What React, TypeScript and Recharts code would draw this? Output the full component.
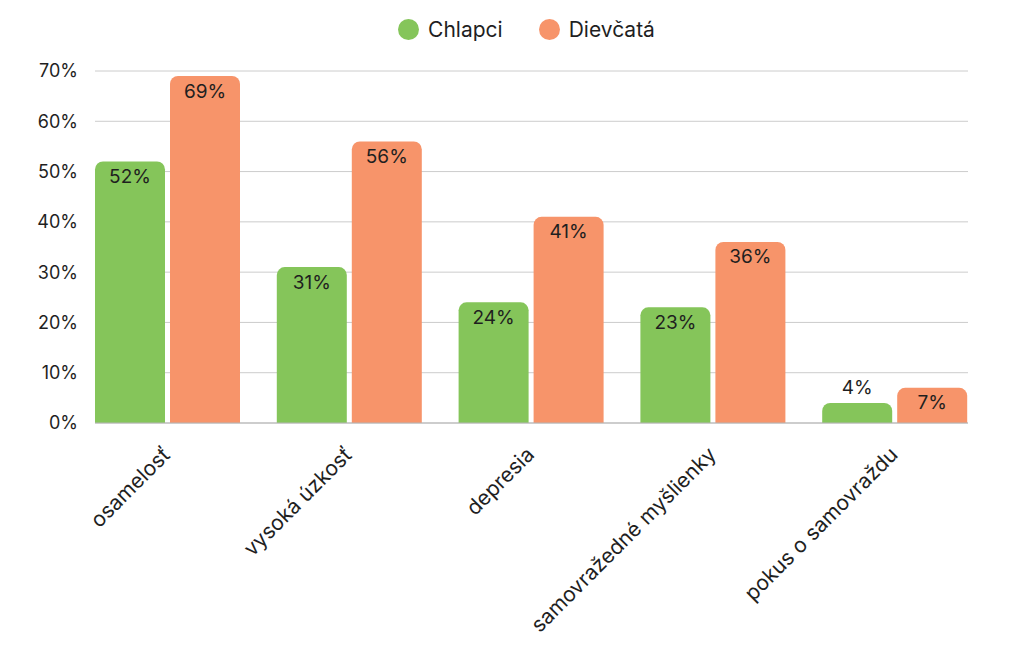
import { BarChart, Bar, XAxis, YAxis, CartesianGrid, Legend, LabelList } from 'recharts'

const CATEGORIES = ['osamelosť', 'vysoká úzkosť', 'depresia', 'samovražedné myšlienky', 'pokus o samovraždu']
const BOYS = [52, 31, 24, 23, 4]
const GIRLS = [69, 56, 41, 36, 7]
const Y_TICKS = [0, 10, 20, 30, 40, 50, 60, 70]

const GREEN = '#85c55a'
const ORANGE = '#f7946a'
const FONT = 'Inter, "Open Sans", sans-serif'
const TEXT = '#1f1f1f'

const data = CATEGORIES.map((name, i) => ({ name, boys: BOYS[i], girls: GIRLS[i] }))

const BarLabel = (props: any) => {
  const { x, y, width, height, value } = props
  const above = height < 28
  return (
    <text
      x={x + width / 2}
      y={above ? y - 15 : y + 15}
      textAnchor="middle"
      dominantBaseline="central"
      fontSize={19}
      fontFamily={FONT}
      fill={TEXT}
    >
      {value}%
    </text>
  )
}

const XTick = (props: any) => {
  const { x, y, payload } = props
  return (
    <text
      transform={`translate(${x + 4},${y + 25}) rotate(-45)`}
      textAnchor="end"
      fontSize={21}
      fontFamily={FONT}
      fill={TEXT}
    >
      {payload.value}
    </text>
  )
}

const LegendContent = () => (
  <div style={{ display: 'flex', justifyContent: 'center', gap: 36, fontFamily: FONT, fontSize: 21, color: TEXT }}>
    {[['Chlapci', GREEN], ['Dievčatá', ORANGE]].map(([label, color]) => (
      <div key={label} style={{ display: 'flex', alignItems: 'center' }}>
        <span style={{ width: 21, height: 21, borderRadius: '50%', background: color, marginRight: 9, display: 'inline-block' }} />
        {label}
      </div>
    ))}
  </div>
)

export default function App() {
  return (
    <div style={{ position: 'absolute', left: 0, top: 0, background: '#fff' }}>
      <BarChart
        width={1024}
        height={661}
        data={data}
        margin={{ top: 71, right: 56, left: 0, bottom: 0 }}
        barCategoryGap={18}
        barGap={5}
      >
        <CartesianGrid vertical={false} stroke="#cccccc" />
        <XAxis
          dataKey="name"
          height={238}
          interval={0}
          padding={{ left: -18, right: -18 }}
          axisLine={{ stroke: '#b5b5b5' }}
          tickLine={false}
          tick={<XTick />}
        />
        <YAxis
          width={95}
          domain={[0, 70]}
          ticks={Y_TICKS}
          tickFormatter={v => `${v}%`}
          axisLine={false}
          tickLine={false}
          tickSize={0}
          tickMargin={17}
          tick={{ fontSize: 18, fontFamily: FONT, fill: TEXT }}
        />
        <Legend
          verticalAlign="middle"
          content={<LegendContent />}
          wrapperStyle={{ top: 17, left: 90, width: 873 }}
        />
        <Bar dataKey="boys" name="Chlapci" fill={GREEN} radius={[8, 8, 0, 0]} isAnimationActive={false}>
          <LabelList dataKey="boys" content={<BarLabel />} />
        </Bar>
        <Bar dataKey="girls" name="Dievčatá" fill={ORANGE} radius={[8, 8, 0, 0]} isAnimationActive={false}>
          <LabelList dataKey="girls" content={<BarLabel />} />
        </Bar>
      </BarChart>
    </div>
  )
}
